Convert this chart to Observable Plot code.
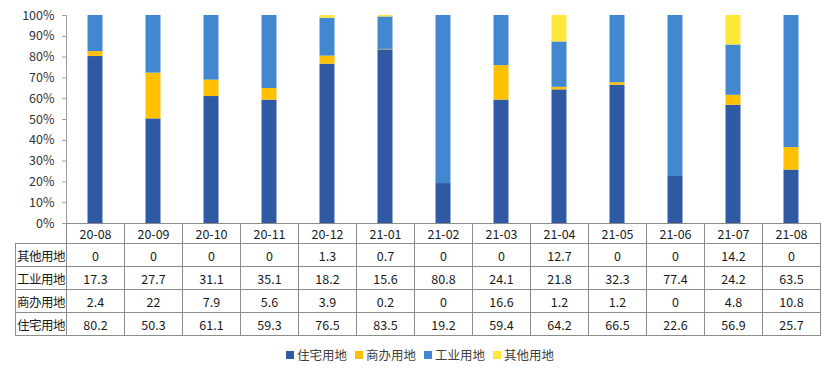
<!DOCTYPE html>
<html><head><meta charset="utf-8">
<script src="https://cdn.jsdelivr.net/npm/d3@7"></script>
<script src="https://cdn.jsdelivr.net/npm/@observablehq/plot@0.6"></script>
<style>
body{margin:0;background:#fff;font-family:"Microsoft YaHei","Noto Sans CJK SC",sans-serif;}
#wrap{position:relative;width:834px;height:368px;}
#chart{position:absolute;left:0;top:0;}
#tbl{position:absolute;left:0;top:0;}
.cell{position:absolute;box-sizing:border-box;display:flex;align-items:center;justify-content:center;font-size:12.5px;color:#1a1a1a;background:transparent;}
.legend{position:absolute;top:345px;left:0;width:834px;font-size:12.5px;color:#404040;}
.li{position:absolute;display:flex;align-items:center;}
.sw{width:8px;height:8px;margin-right:3px;}
</style></head>
<body><div id="wrap"><div id="chart"></div><div id="tbl"></div><div class="legend" id="legend"></div></div>
<script>
const months = ["20-08","20-09","20-10","20-11","20-12","21-01","21-02","21-03","21-04","21-05","21-06","21-07","21-08"];
const series = ["住宅用地","商办用地","工业用地","其他用地"];
const colors = ["#2f5aa3","#ffc000","#4288d0","#ffe83a"];
const residential = [80.2,50.3,61.1,59.3,76.5,83.5,19.2,59.4,64.2,66.5,22.6,56.9,25.7];
const commercial  = [2.4,22,7.9,5.6,3.9,0.2,0,16.6,1.2,1.2,0,4.8,10.8];
const industrial  = [17.3,27.7,31.1,35.1,18.2,15.6,80.8,24.1,21.8,32.3,77.4,24.2,63.5];
const other       = [0,0,0,0,1.3,0.7,0,0,12.7,0,0,14.2,0];
const valuesBySeries = [residential, commercial, industrial, other];
const tableOrder = [3,2,1,0]; // rows: 其他, 工业, 商办, 住宅

const data = [];
series.forEach((s,i)=>months.forEach((m,j)=>data.push({month:m, series:s, value:valuesBySeries[i][j]})));

const W=834, mL=66, mR=14, mT=15, yBottom=223, H=240;
const bandW=(W-mL-mR)/months.length;
const barW=15, inset=(bandW-barW)/2;

const plot = Plot.plot({
  width: W, height: H, marginLeft: mL, marginRight: mR, marginTop: mT, marginBottom: H-yBottom,
  style:{fontFamily:'"Microsoft YaHei","Noto Sans CJK SC",sans-serif', fontSize:"12.5px", color:"#333", background:"transparent"},
  x:{domain:months, padding:0, axis:null},
  y:{domain:[0,1], ticks:d3.range(0,1.0001,0.1), tickFormat:d3.format(".0%"), label:null},
  color:{domain:series, range:colors},
  marks:[
    Plot.barY(data, Plot.stackY({offset:"normalize", order:series, x:"month", y:"value", fill:"series", insetLeft:inset, insetRight:inset})),
    Plot.axisY({ticks:d3.range(0,1.0001,0.1), tickFormat:d3.format(".0%"), tickSize:4, tickPadding:8, stroke:"#a0a0a0", label:null, fontSize:12.5, fill:"#333"}),
    Plot.ruleX([0], {x:()=>months[0], dx:-bandW/2, y1:0, y2:1, stroke:"#a0a0a0"})
  ]
});
document.getElementById("chart").appendChild(plot);

const xs = plot.scale("x");
const tbl = document.getElementById("tbl");
const rowTops=[223,243,266,289,312,335];
const border="1px solid #8c8c8c";
function cell(x,y,w,h,text,extra){
  const d=document.createElement("div");
  d.className="cell";
  d.style.left=x+"px"; d.style.top=y+"px"; d.style.width=(w+1)+"px"; d.style.height=(h+1)+"px";
  d.style.border=border;
  d.textContent=text;
  if(extra) Object.assign(d.style, extra);
  tbl.appendChild(d);
}
months.forEach((m,j)=>{
  const x0 = xs.apply(m);
  cell(x0,rowTops[0],bandW,rowTops[1]-rowTops[0],m);
});
tableOrder.forEach((si,r)=>{
  const y0=rowTops[r+1], h=rowTops[r+2]-y0;
  cell(15,y0,mL-15,h,series[si],{justifyContent:"center",letterSpacing:"-0.5px"});
  months.forEach((m,j)=>{
    cell(xs.apply(m),y0,bandW,h,String(valuesBySeries[si][j]));
  });
});

const leg=document.getElementById("legend");
const legX=[286,355,424,493];
series.forEach((s,i)=>{
  const d=document.createElement("div");d.className="li";d.style.left=legX[i]+"px";
  d.innerHTML=`<span class="sw" style="background:${colors[i]}"></span><span>${s}</span>`;
  leg.appendChild(d);
});
</script></body></html>
